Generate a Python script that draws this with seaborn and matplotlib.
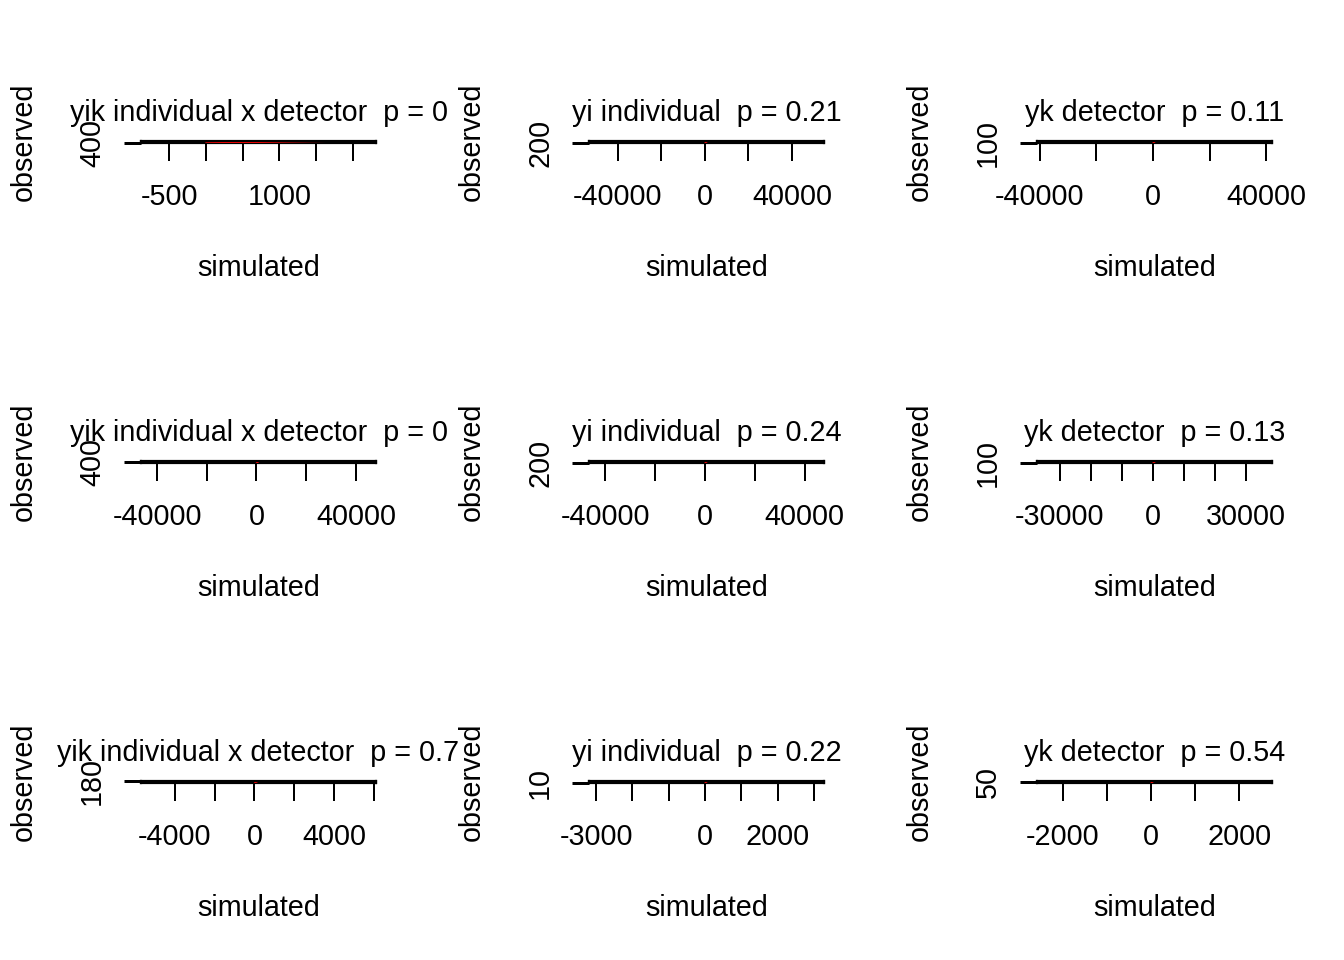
import matplotlib
matplotlib.use("Agg")
import matplotlib.pyplot as plt
import matplotlib.transforms as mtransforms
import seaborn as sns
import pandas as pd

sns.set_style("white")
plt.rcParams['font.family'] = ['Liberation Sans', 'DejaVu Sans']
plt.rcParams['text.color'] = 'black'
plt.rcParams['axes.labelcolor'] = 'black'
plt.rcParams['xtick.color'] = 'black'
plt.rcParams['ytick.color'] = 'black'

# ---------------- data ----------------
titles = [
    "yik individual x detector  p = 0",
    "yi individual  p = 0.21",
    "yk detector  p = 0.11",
    "yik individual x detector  p = 0",
    "yi individual  p = 0.24",
    "yk detector  p = 0.13",
    "yik individual x detector  p = 0.7",
    "yi individual  p = 0.22",
    "yk detector  p = 0.54",
]

sim_1 = [-764, -520, -210, 90, 380, 640, 910, 1230, 1560, 1870, 2196]
sim_2 = [-49300, -31800, -18500, -6200, 4100, 15300, 27900, 39600, 50700]
sim_3 = [-37980, -25400, -13700, -2900, 8600, 19200, 30800, 39040]
sim_4 = [-42960, -29700, -16800, -4500, 7300, 19900, 32600, 44580]
sim_5 = [-43130, -30500, -17200, -5100, 6800, 18600, 31400, 44340]
sim_6 = [-34610, -23900, -12800, -1700, 9400, 20300, 28700, 35580]
sim_7 = [-5243, -3600, -2100, -700, 650, 2100, 3500, 4700, 5645]
sim_8 = [-2956, -2100, -1250, -400, 450, 1300, 2150, 3038]
sim_9 = [-2380, -1650, -900, -200, 500, 1250, 1900, 2538]

obs_1 = [402, 398, 405, 396, 401, 399, 404, 397, 403, 400, 398]
obs_2 = [201, 198, 203, 199, 200, 202, 197, 201, 199]
obs_3 = [101, 99, 102, 98, 100, 101, 99, 100]
obs_4 = [401, 397, 404, 399, 402, 398, 400, 403]
obs_5 = [199, 202, 198, 201, 200, 197, 203, 200]
obs_6 = [100, 102, 98, 101, 99, 100, 101, 99]
obs_7 = [181, 178, 183, 179, 180, 182, 177, 181, 180]
obs_8 = [10, 11, 9, 10, 12, 9, 10, 11]
obs_9 = [51, 49, 50, 52, 48, 50, 51, 49]

obs_top = [1880, 1400, 1000, 1200, 1200, 1000, 200, 80, 70]

xtick_1 = [-500, 0, 500, 1000, 1500, 2000]
xlab_1 = ["-500", "", "", "1000", "", ""]
xtick_2 = [-40000, -20000, 0, 20000, 40000]
xlab_2 = ["-40000", "", "0", "", "40000"]
xtick_6 = [-30000, -20000, -10000, 0, 10000, 20000, 30000]
xlab_6 = ["-30000", "", "", "0", "", "", "30000"]
xtick_7 = [-4000, -2000, 0, 2000, 4000, 6000]
xlab_7 = ["-4000", "", "0", "", "4000", ""]
xtick_8 = [-3000, -2000, -1000, 0, 1000, 2000, 3000]
xlab_8 = ["-3000", "", "", "0", "", "2000", ""]
xtick_9 = [-2000, -1000, 0, 1000, 2000]
xlab_9 = ["-2000", "", "0", "", "2000"]

ytick_vals = [400, 200, 100, 400, 200, 100, 180, 10, 50]

sims = [sim_1, sim_2, sim_3, sim_4, sim_5, sim_6, sim_7, sim_8, sim_9]
obss = [obs_1, obs_2, obs_3, obs_4, obs_5, obs_6, obs_7, obs_8, obs_9]
xticks = [xtick_1, xtick_2, xtick_2, xtick_2, xtick_2, xtick_6, xtick_7, xtick_8, xtick_9]
xlabs = [xlab_1, xlab_2, xlab_2, xlab_2, xlab_2, xlab_6, xlab_7, xlab_8, xlab_9]

# ---------------- layout ----------------
W_PX, H_PX = 1344, 960
fig = plt.figure(figsize=(W_PX / 100, H_PX / 100), dpi=100)
FS = 20.7
PT = 72 / 100  # points per pixel

for i in range(9):
    r, c = divmod(i, 3)
    left = 141 + 448 * c
    top = 141 + 320 * r
    ax = fig.add_axes([left / W_PX, 1 - (top + 2) / H_PX, 235 / W_PX, 2 / H_PX])

    df = pd.DataFrame({"simulated": sims[i], "observed": obss[i]})
    sns.scatterplot(data=df, x="simulated", y="observed", ax=ax, color="black",
                    s=14, linewidth=0, zorder=2)
    ax.axline((0, 0), slope=1, color="red", linewidth=1.5 * PT, zorder=2.6)

    lo, hi = min(sims[i]), max(sims[i])
    pad = 0.04 * (hi - lo)
    ax.set_xlim(lo - pad, hi + pad)
    ax.set_ylim(0, obs_top[i])

    for name, sp in ax.spines.items():
        sp.set_visible(True)
        sp.set_color("black")
        sp.set_linewidth(2.2 * PT)
    ax.spines["top"].set_zorder(2.7)
    ax.spines["bottom"].set_zorder(2.5)

    ax.set_xticks(xticks[i])
    ax.set_xticklabels(xlabs[i])
    ax.set_yticks([ytick_vals[i]])
    ax.set_yticklabels([str(ytick_vals[i])], rotation=90, va="center")
    ax.tick_params(axis="x", direction="out", length=18 * PT, width=2 * PT,
                   pad=22 * PT, labelsize=FS, colors="black", bottom=True)
    ax.tick_params(axis="y", direction="out", length=17 * PT, width=3 * PT,
                   pad=18 * PT, labelsize=FS, colors="black", left=True)

    ax.set_title(titles[i], fontsize=FS, pad=20 * PT, color="black")

    ax.set_xlabel("simulated", fontsize=FS)
    ax.xaxis.set_label_coords(
        0.5, 1 - (254 + 320 * r) / H_PX,
        transform=mtransforms.blended_transform_factory(ax.transAxes, fig.transFigure))
    ax.set_ylabel("observed", fontsize=FS)
    ax.yaxis.set_label_coords(
        (38 + 448 * c) / W_PX, 0.5,
        transform=mtransforms.blended_transform_factory(fig.transFigure, ax.transAxes))

fig.savefig("out.png", dpi=100, facecolor="white")
